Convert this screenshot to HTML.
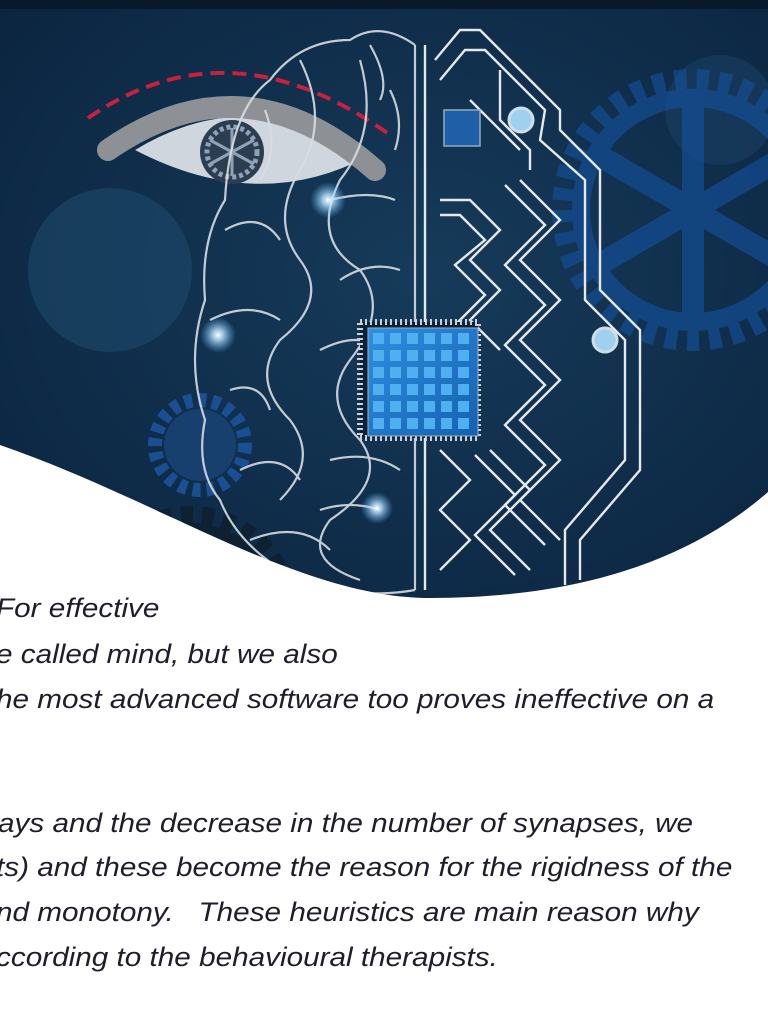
<!DOCTYPE html>
<html><head><meta charset="utf-8"><style>
html,body{margin:0;padding:0;width:768px;height:1024px;overflow:hidden;background:#fff}
#art{position:absolute;left:0;top:0}
.t{position:absolute;left:0;font-family:"Liberation Sans",sans-serif;font-style:italic;font-size:27px;color:#1d1d2b;white-space:pre;line-height:30px;transform:scaleX(1.1);transform-origin:0 0}
</style></head><body>
<svg id="art" width="768" height="610" viewBox="0 0 768 610">
<defs>
<radialGradient id="bg" cx="0.55" cy="0.45" r="0.7"><stop offset="0" stop-color="#163b5a"/><stop offset="1" stop-color="#0b2540"/></radialGradient>
<radialGradient id="glow"><stop offset="0" stop-color="#fff"/><stop offset="0.3" stop-color="#bfe6ff" stop-opacity="0.8"/><stop offset="1" stop-color="#5fb4ff" stop-opacity="0"/></radialGradient>
<linearGradient id="chip" x1="0" y1="0" x2="1" y2="1"><stop offset="0" stop-color="#2f8fe0"/><stop offset="1" stop-color="#1560b0"/></linearGradient>
<clipPath id="wave"><path d="M0,0 L768,0 L768,492 C690,560 580,598 430,598 C300,598 160,500 0,445 Z"/></clipPath>
</defs>
<g clip-path="url(#wave)">
<rect width="768" height="610" fill="url(#bg)"/>
<rect width="768" height="9" fill="#08192b"/>
<circle cx="110" cy="270" r="82" fill="#1e4a6c" opacity="0.6"/>
<circle cx="50" cy="560" r="80" fill="#163c5c" opacity="0.6"/>
<circle cx="720" cy="110" r="55" fill="#1a3f62" opacity="0.6"/>
<g fill="#1452a0" opacity="0.6">
<circle cx="693" cy="210" r="130" fill="none" stroke="#1452a0" stroke-width="22" stroke-dasharray="12 10"/>
<circle cx="693" cy="210" r="112" fill="none" stroke="#1452a0" stroke-width="18"/>
<circle cx="693" cy="210" r="22"/>
<g stroke="#1452a0" stroke-width="22"><line x1="693" y1="100" x2="693" y2="320"/><line x1="598" y1="155" x2="788" y2="265"/><line x1="598" y1="265" x2="788" y2="155"/></g>
</g>
<g>
<circle cx="200" cy="445" r="45" fill="none" stroke="#1a4f93" stroke-width="14" stroke-dasharray="8 6"/>
<circle cx="200" cy="445" r="36" fill="#17406e"/>
</g>
<g>
<circle cx="190" cy="615" r="100" fill="none" stroke="#0d2133" stroke-width="18" stroke-dasharray="12 9"/>
<circle cx="190" cy="615" r="84" fill="none" stroke="#0d2133" stroke-width="16"/>
</g>
<path d="M88,118 Q230,20 390,135" fill="none" stroke="#c8203f" stroke-width="4" stroke-dasharray="14 8"/>
<g>
<path d="M135,150 Q250,80 370,155 Q260,215 135,150Z" fill="#cfd6dd"/>
<path d="M108,150 Q245,55 375,170" fill="none" stroke="#8d9196" stroke-width="22" stroke-linecap="round"/>
<circle cx="232" cy="152" r="32" fill="#2c3d50"/>
<circle cx="232" cy="152" r="25" fill="none" stroke="#8fa3b8" stroke-width="5" stroke-dasharray="4 3"/>
<g stroke="#8fa3b8" stroke-width="3"><line x1="232" y1="128" x2="232" y2="176"/><line x1="210" y1="140" x2="254" y2="164"/><line x1="210" y1="164" x2="254" y2="140"/></g>
</g>
<g fill="none" stroke="#d8dde2" stroke-width="2.2" opacity="0.9">
<path d="M415,45 Q380,20 350,40 Q300,40 270,80 Q230,110 225,200 Q200,240 205,300 Q185,360 205,420 Q195,470 220,500 Q240,550 300,580 Q360,600 415,590"/>
<path d="M415,45 L415,590"/>
<path d="M300,60 Q330,120 300,170 Q270,220 300,260 Q330,300 280,340 Q250,380 290,420 Q320,460 280,500"/>
<path d="M360,60 Q380,130 340,180 Q310,240 360,270 Q390,310 350,360 Q320,400 360,440 Q390,480 330,520 Q300,560 360,580"/>
<path d="M225,230 Q260,210 280,240 M210,320 Q250,300 280,320 M230,390 Q260,380 270,410 M240,470 Q280,450 300,480 M250,540 Q300,520 330,550"/>
<path d="M330,200 Q370,190 395,200 M340,280 Q370,260 400,270 M320,350 Q360,330 380,350 M330,460 Q370,450 400,470 M320,510 Q350,500 380,510"/>
<path d="M370,45 Q390,80 380,100 M390,90 Q405,120 395,150 M265,110 Q280,150 260,180"/>
</g>
<g fill="none" stroke="#e6e9ec" stroke-width="2.4">
<path d="M425,45 L425,590"/>
<path d="M435,60 L460,30 L480,30 L560,110 L560,130 L600,170 L600,290 L640,330 L640,470 L580,540 L580,580"/>
<path d="M440,80 L465,50 L485,50 L545,110 L540,140 L585,180 L585,300 L625,340 L625,460 L565,530 L565,585"/>
<path d="M440,200 L470,200 L500,230 L470,260 L500,290 L470,320 L500,350"/>
<path d="M440,215 L460,215 L485,240 L455,265 L485,295 L455,325"/>
<path d="M520,180 L560,220 L520,260 L560,300 L520,340 L560,380 L520,420 L560,460 L520,500 L560,540"/>
<path d="M505,185 L545,225 L505,265 L545,305 L505,345 L545,385 L505,425 L545,465 L505,505 L545,545"/>
<path d="M490,450 L530,490 L490,530 L530,570 M475,455 L515,495 L475,535 L515,575"/>
<path d="M440,450 L470,480 L440,510 L470,540 L440,570"/>
<path d="M500,70 L500,120 L530,150 L530,170 M470,100 L520,150"/>
</g>
<g><rect x="444" y="110" width="36" height="36" fill="#1f5fa8" stroke="#9ab" stroke-width="1.5"/></g>
<circle cx="521" cy="120" r="12" fill="#9fd1ee" stroke="#d0dde6" stroke-width="3"/>
<circle cx="605" cy="340" r="12" fill="#9fd1ee" stroke="#d0dde6" stroke-width="3"/>
<g>
<rect x="360" y="322" width="118" height="116" fill="#0f2235" stroke="#c9d2da" stroke-width="6" stroke-dasharray="2 3"/>
<rect x="368" y="328" width="110" height="108" fill="url(#chip)" stroke="#9fb4c6"/>
<g fill="#4fb0f0">
<rect x="373" y="333" width="11" height="11"/><rect x="390" y="333" width="11" height="11"/><rect x="407" y="333" width="11" height="11"/><rect x="424" y="333" width="11" height="11"/><rect x="441" y="333" width="11" height="11"/><rect x="458" y="333" width="11" height="11"/>
<rect x="373" y="350" width="11" height="11"/><rect x="390" y="350" width="11" height="11"/><rect x="407" y="350" width="11" height="11"/><rect x="424" y="350" width="11" height="11"/><rect x="441" y="350" width="11" height="11"/><rect x="458" y="350" width="11" height="11"/>
<rect x="373" y="367" width="11" height="11"/><rect x="390" y="367" width="11" height="11"/><rect x="407" y="367" width="11" height="11"/><rect x="424" y="367" width="11" height="11"/><rect x="441" y="367" width="11" height="11"/><rect x="458" y="367" width="11" height="11"/>
<rect x="373" y="384" width="11" height="11"/><rect x="390" y="384" width="11" height="11"/><rect x="407" y="384" width="11" height="11"/><rect x="424" y="384" width="11" height="11"/><rect x="441" y="384" width="11" height="11"/><rect x="458" y="384" width="11" height="11"/>
<rect x="373" y="401" width="11" height="11"/><rect x="390" y="401" width="11" height="11"/><rect x="407" y="401" width="11" height="11"/><rect x="424" y="401" width="11" height="11"/><rect x="441" y="401" width="11" height="11"/><rect x="458" y="401" width="11" height="11"/>
<rect x="373" y="418" width="11" height="11"/><rect x="390" y="418" width="11" height="11"/><rect x="407" y="418" width="11" height="11"/><rect x="424" y="418" width="11" height="11"/><rect x="441" y="418" width="11" height="11"/><rect x="458" y="418" width="11" height="11"/>
</g></g>
<circle cx="328" cy="200" r="18" fill="url(#glow)"/>
<circle cx="218" cy="335" r="18" fill="url(#glow)"/>
<circle cx="377" cy="508" r="16" fill="url(#glow)"/>
</g>
</svg>
<div class="t" style="top:593px;left:-4px">For effective</div>
<div class="t" style="top:639px;left:-4px">e called mind, but we also</div>
<div class="t" style="top:684px;left:-4px">he most advanced software too proves ineffective on a</div>
<div class="t" style="top:808px;left:-2px">ays and the decrease in the number of synapses, we</div>
<div class="t" style="top:852px;left:-4px">ts) and these become the reason for the rigidness of the</div>
<div class="t" style="top:897px;left:-4px">nd monotony.   These heuristics are main reason why</div>
<div class="t" style="top:942px;left:-4px">ccording to the behavioural therapists.</div>
</body></html>
